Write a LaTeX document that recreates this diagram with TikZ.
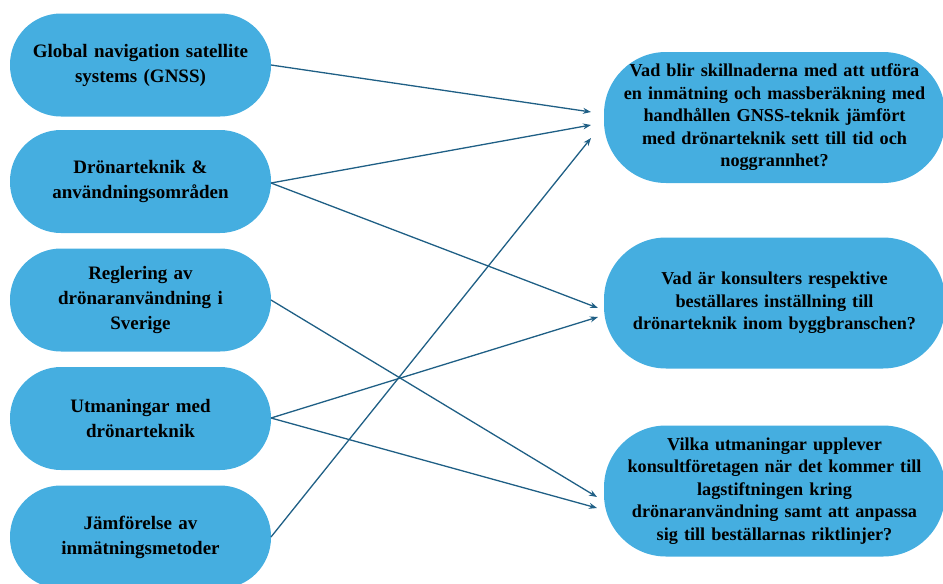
\documentclass[tikz,border=0pt]{standalone}
\usepackage{fontspec}
\setmainfont{Liberation Serif}
\usetikzlibrary{arrows.meta}
\definecolor{boxblue}{HTML}{45AEE0}
\definecolor{arrowblue}{HTML}{1F5F85}
\begin{document}
\begin{tikzpicture}[x=1pt,y=-1pt,
  lbox/.style={fill=boxblue, draw=none, rounded corners=51pt, minimum width=261pt, minimum height=103pt,
    text width=245pt, align=center, font=\bfseries\fontsize{19}{25}\selectfont, inner sep=0pt},
  rbox/.style={fill=boxblue, draw=none, rounded corners=62pt, minimum width=341pt, minimum height=131pt,
    text width=325pt, align=center, font=\bfseries\fontsize{18.2}{22.5}\selectfont, inner sep=0pt},
  conn/.style={draw=arrowblue, line width=1.3pt, -{Stealth[length=8pt,width=6pt]}}]
\useasboundingbox (0,0) rectangle (943,584);
\node[lbox] (g) at (140.5,65) {Global navigation satellite\\systems (GNSS)};
\node[lbox] (d) at (140.5,181.5) {Drönarteknik \&\\användningsområden};
\node[lbox] (r) at (140.5,300) {Reglering av\\drönaranvändning i\\Sverige};
\node[lbox] (u) at (140.5,418.5) {Utmaningar med\\drönarteknik};
\node[lbox] (j) at (140.5,537) {Jämförelse av\\inmätningsmetoder};
\node[rbox] (a) at (774.5,117.5) {Vad blir skillnaderna med att utföra\\en inmätning och massberäkning med\\handhållen GNSS-teknik jämfört\\med drönarteknik sett till tid och\\noggrannhet?};
\node[rbox] (b) at (774.5,303) {Vad är konsulters respektive\\beställares inställning till\\drönarteknik inom byggbranschen?};
\node[rbox] (c) at (774.5,491) {Vilka utmaningar upplever\\konsultföretagen när det kommer till\\lagstiftningen kring\\drönaranvändning samt att anpassa\\sig till beställarnas riktlinjer?};
\coordinate (g0) at (271,65);
\coordinate (d0) at (271,183);
\coordinate (r0) at (271,300);
\coordinate (u0) at (271,418);
\coordinate (j0) at (271,537);
\coordinate (a1) at (591,112);
\coordinate (a2) at (591,125);
\coordinate (a3) at (591,138);
\coordinate (b1) at (598,308);
\coordinate (b2) at (598,317);
\coordinate (c1) at (597,497);
\coordinate (c2) at (597,508);
\draw[conn] (g0) -- (a1);
\draw[conn] (d0) -- (a2);
\draw[conn] (d0) -- (b1);
\draw[conn] (j0) -- (a3);
\draw[conn] (r0) -- (c1);
\draw[conn] (u0) -- (b2);
\draw[conn] (u0) -- (c2);
\end{tikzpicture}
\end{document}
